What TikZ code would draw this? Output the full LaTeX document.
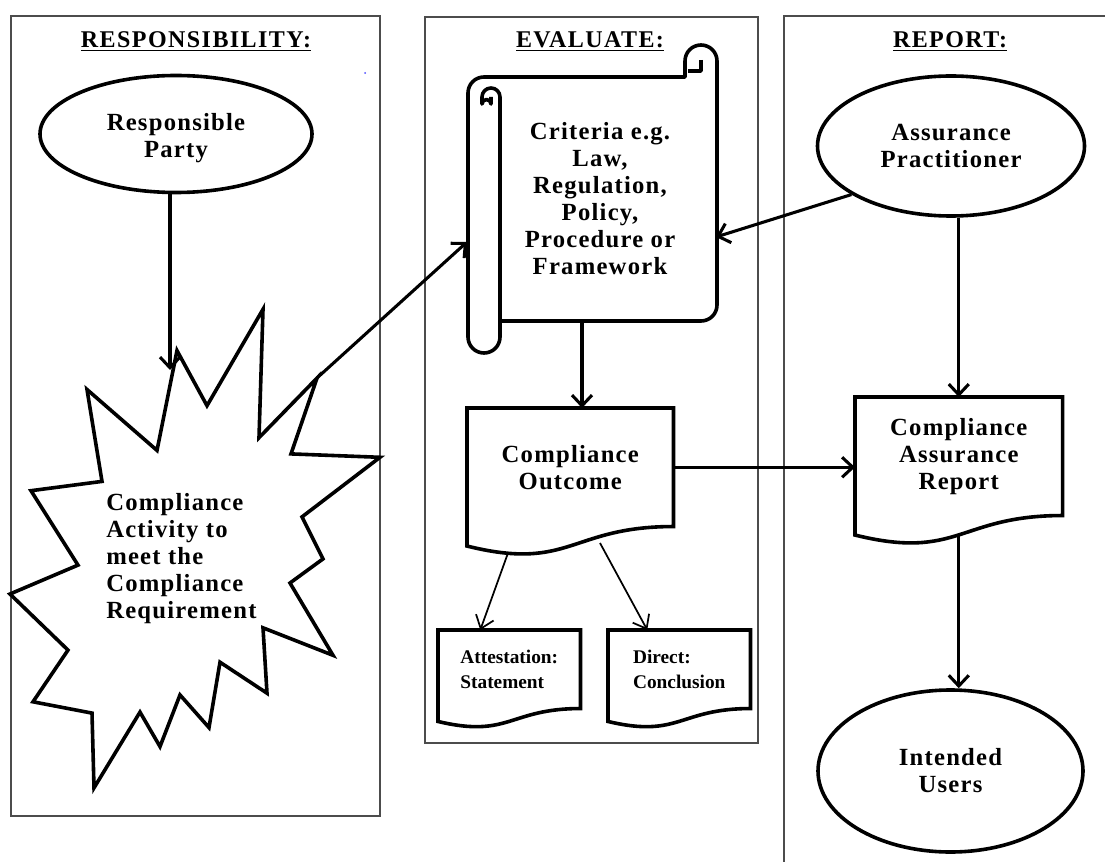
\documentclass[tikz,border=0pt]{standalone}
\usepackage{fontspec}
\setmainfont{Liberation Serif}
\newfontfamily\bodyfont[LetterSpace=5]{Liberation Serif}
\newfontfamily\titlefont[LetterSpace=6]{Liberation Serif}
\usetikzlibrary{arrows.meta,shapes.geometric,calc}
\newcommand{\docoutline}[1]{%
  \draw[shapeline] let \p1=(#1.north west), \p2=(#1.south east), \n1={\y1-\y2} in
    (\x1,\y1) -- (\x2,\y1) -- (\x2,\y2) .. controls ({(\x1+\x2)/2},\y2) and ({(\x1+\x2)/2},{\y1-1.381*\n1}) .. (\x1,{\y1-1.1646*\n1}) -- cycle;}
\begin{document}
\begin{tikzpicture}[x=0.75pt,y=-0.75pt,
  panel/.style={draw=black!70, line width=1.2pt},
  shapeline/.style={draw=black, line width=2.7pt},
  conn/.style={line width=2.3pt, -{Straight Barb[length=8pt,width=15pt]}},
  thinconn/.style={line width=1.3pt, -{Straight Barb[length=9pt,width=14pt]}},
  body/.style={font=\bodyfont\bfseries\fontsize{18.5}{20.25}\selectfont, align=center, inner sep=0pt},
  smalltext/.style={font=\bfseries\fontsize{14.5}{18.75}\selectfont, align=left, inner sep=0pt},
  titletext/.style={font=\titlefont\bfseries\fontsize{18}{20}\selectfont, inner sep=0pt, anchor=base},
  oval/.style={ellipse, shapeline, inner sep=0pt},
  doc/.style={rectangle, inner sep=0pt, anchor=north west},
]
\useasboundingbox (0,0) rectangle (1105,862);
\fill[white] (0,0) rectangle (1105,862);

% panels
\draw[panel] (11,16) rectangle (380,816);
\draw[panel] (425,17) rectangle (758,743);
\draw[panel] (1106,16) -- (784,16) -- (784,863);
\fill[blue!70] (365,73) circle[radius=1];

% titles
\node[titletext] (t1) at (196,48) {\underline{RESPONSIBILITY:}};
\node[titletext] (t2) at (590,48) {\underline{EVALUATE:}};
\node[titletext] (t3) at (950,48) {\underline{REPORT:}};

% ellipses
\node[oval, minimum width=204pt, minimum height=87.75pt] (rp) at (176,134) {};
\node[body] (rptext) at (176,138) {Responsible\\Party};
\node[oval, body, minimum width=200.25pt, minimum height=105pt] (ap) at (951,146) {Assurance\\Practitioner};
\node[oval, body, minimum width=198.75pt, minimum height=121.5pt] (iu) at (950.5,771) {Intended\\Users};

% starburst
\draw[shapeline] (177,350.6) -- (207,405.7) -- (263,309.3) -- (259,437.7) -- (317,378.1) -- (291,453.9)
  -- (380,457.3) -- (302,516.9) -- (323,558.9) -- (290,583) -- (333,655.3) -- (263,627.8)
  -- (267,693.2) -- (220,662.2) -- (209,727.6) -- (180,694.9) -- (160,746.6) -- (140,712.1)
  -- (94,787.9) -- (92,713.1) -- (33,701.8) -- (68,650.1) -- (10,594) -- (78,565.1)
  -- (31,490.7) -- (102,481.4) -- (87,389.5) -- (157,450.4) -- cycle;
\node[body, align=left, anchor=west] (burst) at (106,559) {Compliance\\Activity to\\meet the\\Compliance\\Requirement};

% scroll
\draw[shapeline, line join=round] (468,93) arc[start angle=180, end angle=270, radius=16]
  -- (685,77) -- (685,61) arc[start angle=180, end angle=360, radius=16]
  -- (717,305) arc[start angle=0, end angle=90, radius=16]
  -- (500,321) -- (500,337) arc[start angle=0, end angle=180, radius=16] -- cycle;
\draw[shapeline, line join=round] (500,321) -- (500,97) arc[start angle=0, end angle=-180, radius=9]
  -- (482,104) arc[start angle=180, end angle=360, radius=4.5] -- (491,97);
\draw[shapeline, line join=round] (701,60) -- (701,71) -- (688,71);
\node[body] (crit) at (600,199) {Criteria e.g.\\Law,\\Regulation,\\Policy,\\Procedure or\\Framework};

% documents
\node[doc, body, minimum width=154.5pt, minimum height=88.5pt] (out) at (467,408) {Compliance\\Outcome};
\docoutline{out}
\node[doc, body, minimum width=155.25pt, minimum height=88.5pt] (rep) at (855,397) {Compliance\\Assurance\\Report};
\docoutline{rep}
\node[doc, smalltext, align=left, minimum width=106.5pt, minimum height=58.5pt] (att) at (438,630) {Attestation:\\Statement};
\docoutline{att}
\node[doc, smalltext, align=left, minimum width=106.5pt, minimum height=58.5pt] (dir) at (608,630) {Direct:\\Conclusion};
\docoutline{dir}

% connector endpoints
\coordinate (burstTop) at (170,370);
\coordinate (burstP3) at (317,378);
\coordinate (scrollL) at (467,242);
\coordinate (scrollR) at (716,237);
\coordinate (scrollB) at (582,322);
\coordinate (wave1) at (508,553);
\coordinate (wave2) at (600,543);

% connectors
\draw[conn] (rp.south -| burstTop) -- (burstTop);
\draw[conn] (burstP3) -- (scrollL);
\draw[conn] (ap.206) -- (scrollR);
\draw[conn] (ap.south -| rep.north) -- (rep.north);
\draw[conn] (scrollB) -- (scrollB |- out.north);
\draw[conn] (out.east) -- (out.east -| rep.west);
\draw[conn] ([yshift=-14pt]rep.south) -- (rep.south |- iu.north);
\draw[thinconn] (wave1) -- ([xshift=-21.75pt]att.north);
\draw[thinconn] (wave2) -- ([xshift=-24pt]dir.north);
\end{tikzpicture}
\end{document}
